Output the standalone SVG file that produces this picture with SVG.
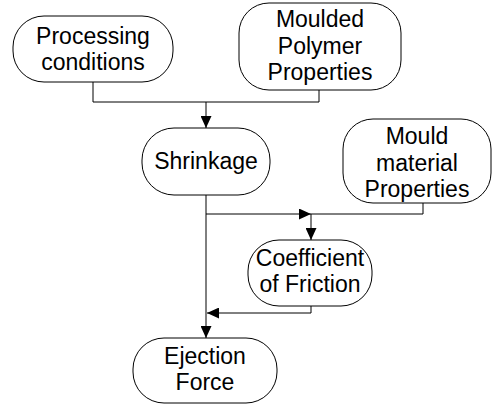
<svg xmlns="http://www.w3.org/2000/svg" width="492" height="405" viewBox="0 0 492 405">
<defs>
<style>
.box{fill:#fff;stroke:#000;stroke-width:1}
.t{font-family:"Liberation Sans",Arial,sans-serif;font-size:23px;fill:#000;text-anchor:middle}
.c{fill:none;stroke:#000;stroke-width:1}
</style>
<marker id="ah" markerUnits="userSpaceOnUse" markerWidth="12" markerHeight="11" refX="12" refY="5.5" orient="auto">
<path d="M0,0 L12,5.5 L0,11 Z" fill="#000"/>
</marker>
</defs>
<rect width="492" height="405" fill="#fff"/>
<g id="connectors">
<path class="c" d="M93,82 V102 H319 V90"/>
<path class="c" d="M206,102 V128" marker-end="url(#ah)"/>
<path class="c" d="M206,195 V338" marker-end="url(#ah)"/>
<path class="c" d="M206,214 H311" marker-end="url(#ah)"/>
<path class="c" d="M423,203 V214 H311"/>
<path class="c" d="M311,214 V240" marker-end="url(#ah)"/>
<path class="c" d="M311,306 V313 H207" marker-end="url(#ah)"/>
</g>
<g id="processing">
<rect class="box" x="13" y="16" width="160" height="66" rx="31" ry="31"/>
<text class="t" x="93" y="43.5">Processing</text>
<text class="t" x="93" y="70">conditions</text>
</g>
<g id="moulded">
<rect class="box" x="239" y="3" width="162" height="87" rx="30" ry="30"/>
<text class="t" x="320" y="27">Moulded</text>
<text class="t" x="320" y="53.5">Polymer</text>
<text class="t" x="320" y="80">Properties</text>
</g>
<g id="shrinkage">
<rect class="box" x="142" y="128" width="128" height="67" rx="32" ry="32"/>
<text class="t" x="206" y="169">Shrinkage</text>
</g>
<g id="mould">
<rect class="box" x="343" y="119" width="148" height="84" rx="30" ry="30"/>
<text class="t" x="417" y="144">Mould</text>
<text class="t" x="417" y="170.5">material</text>
<text class="t" x="417" y="197">Properties</text>
</g>
<g id="coefficient">
<rect class="box" x="248" y="240" width="124" height="66" rx="31" ry="31"/>
<text class="t" x="310" y="266">Coefficient</text>
<text class="t" x="310" y="292">of Friction</text>
</g>
<g id="ejection">
<rect class="box" x="133" y="338" width="144" height="65" rx="31" ry="31"/>
<text class="t" x="205" y="364">Ejection</text>
<text class="t" x="205" y="390">Force</text>
</g>
</svg>
